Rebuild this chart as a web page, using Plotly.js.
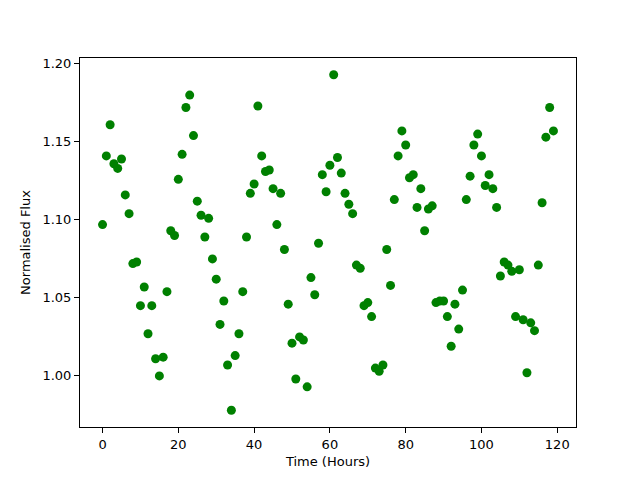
<!DOCTYPE html>
<html>
<head>
<meta charset="utf-8">
<script src="https://cdn.plot.ly/plotly-3.0.1.min.js"></script>
<style>html,body{margin:0;padding:0;background:#fff;}#chart{width:640px;height:480px;}</style>
</head>
<body>
<div id="chart"></div>
<script>
const hours = [];
for (let i = 0; i <= 119; i++) hours.push(i);

const flux = [
  1.097, 1.141, 1.161, 1.136, 1.133, 1.139, 1.116, 1.104, 1.072, 1.073,
  1.045, 1.057, 1.027, 1.045, 1.011, 1.000, 1.012, 1.054, 1.093, 1.090,
  1.126, 1.142, 1.172, 1.180, 1.154, 1.112, 1.103, 1.089, 1.101, 1.075,
  1.062, 1.033, 1.048, 1.007, 0.978, 1.013, 1.027, 1.054, 1.089, 1.117,
  1.123, 1.173, 1.141, 1.131, 1.132, 1.120, 1.097, 1.117, 1.081, 1.046,
  1.021, 0.998, 1.025, 1.023, 0.993, 1.063, 1.052, 1.085, 1.129, 1.118,
  1.135, 1.193, 1.140, 1.130, 1.117, 1.110, 1.104, 1.071, 1.069, 1.045,
  1.047, 1.038, 1.005, 1.003, 1.007, 1.081, 1.058, 1.113, 1.141, 1.157,
  1.148, 1.127, 1.129, 1.108, 1.120, 1.093, 1.107, 1.109, 1.047, 1.048,
  1.048, 1.038, 1.019, 1.046, 1.030, 1.055, 1.113, 1.128, 1.148, 1.155,
  1.141, 1.122, 1.129, 1.120, 1.108, 1.064, 1.073, 1.071, 1.067, 1.038,
  1.068, 1.036, 1.002, 1.034, 1.029, 1.071, 1.111, 1.153, 1.172, 1.157
];

const xTicks = [0, 20, 40, 60, 80, 100, 120];
const yTicks = [1.00, 1.05, 1.10, 1.15, 1.20];
const xTitle = "Time (Hours)";
const yTitle = "Normalised Flux";

function padRange(arr) {
  const mn = Math.min(...arr), mx = Math.max(...arr);
  const p = (mx - mn) * 0.05;
  return [mn - p, mx + p];
}

const font = {family: "DejaVu Sans", size: 13, color: "#000"};
const axisCommon = {
  showline: true, mirror: true, linecolor: "#000", linewidth: 1,
  ticks: "outside", ticklen: 5, tickwidth: 1, tickcolor: "#000",
  showgrid: false, zeroline: false, tickfont: font
};

Plotly.newPlot("chart", [{
  x: hours, y: flux, type: "scatter", mode: "markers",
  marker: {color: "#008000", size: 9, line: {width: 0}}
}], {
  width: 640, height: 480,
  margin: {l: 80, r: 64, t: 58, b: 53, pad: 0},
  paper_bgcolor: "#fff", plot_bgcolor: "#fff",
  showlegend: false,
  font: font,
  xaxis: Object.assign({}, axisCommon, {
    range: padRange(hours), tickvals: xTicks, ticktext: xTicks.map(String),
    title: {text: xTitle, font: font, standoff: 6}
  }),
  yaxis: Object.assign({}, axisCommon, {
    range: padRange(flux), tickvals: yTicks, ticktext: yTicks.map(v => v.toFixed(2)),
    title: {text: yTitle, font: font, standoff: 8}
  })
}, {staticPlot: true});
</script>
</body>
</html>
